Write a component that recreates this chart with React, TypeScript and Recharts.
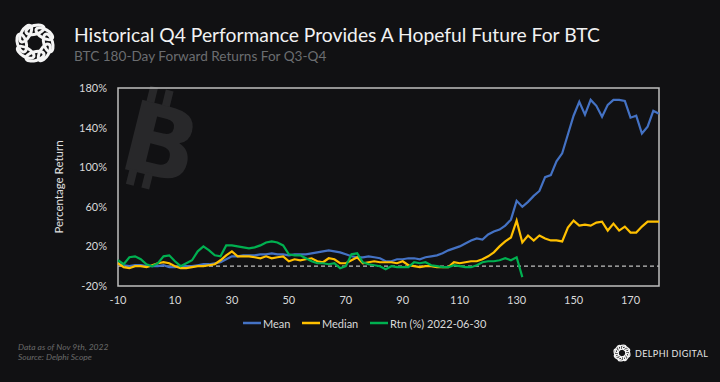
import React from 'react';
import { LineChart, Line, XAxis, YAxis, ReferenceLine, ReferenceArea } from 'recharts';

const days: number[] = [];
for (let d = -10; d <= 180; d += 2) days.push(d);

const meanValues = [
  2, 1, 0, 1, 1, 0, 0, 0, 1, -1,
  -1, 0, 0, 0, 1, 2, 2, 3, 4, 7,
  10, 10, 11, 11, 11, 12, 12, 13, 12, 12,
  11, 12, 12, 12, 13, 14, 15, 16, 15, 14,
  12, 10, 9, 9, 10, 9, 8, 5, 5, 7,
  7, 8, 8, 7, 9, 10, 11, 13, 16, 18,
  20, 23, 26, 28, 27, 32, 35, 37, 41, 47,
  66, 60, 65, 71, 76, 90, 92, 106, 114, 133,
  152, 166, 153, 168, 162, 151, 163, 168, 168, 167,
  150, 152, 134, 141, 157, 154,
];

const medianValues = [
  3, -1, -2, 0, 0, -1, 1, 3, 4, 3,
  0, -2, -2, -1, 0, 0, 1, 2, 6, 11,
  15, 10, 10, 10, 9, 8, 10, 8, 9, 10,
  5, 7, 6, 7, 8, 5, 4, 8, 7, 3,
  3, 6, 9, 3, 4, 5, 4, 4, 4, 3,
  5, 1, 0, -1, 0, 0, -1, -1, -1, 4,
  3, 4, 5, 5, 7, 10, 14, 20, 25, 29,
  46, 24, 31, 26, 31, 28, 26, 26, 25, 39,
  46, 41, 42, 41, 44, 45, 36, 43, 36, 40,
  34, 34, 40, 45, 45, 45,
];

const rtnValues = [
  6, 2, 9, 10, 7, 2, 0, 3, 10, 11,
  5, 0, 3, 6, 15, 20, 16, 11, 10, 21,
  21, 20, 19, 18, 19, 21, 24, 25, 24, 21,
  12, 11, 11, 8, 5, 3, 3, 2, 3, -2,
  0, 12, 13, 4, 2, 1, 0, -3, 0, -1,
  -1, -1, 4, 3, 4, 1, 0, -1, -1, 1,
  0, -1, -1, 1, 4, 5, 5, 6, 8, 6,
  9, -11,
];

const xTicks = [-10, 10, 30, 50, 70, 90, 110, 130, 150, 170];
const yTicks = [-20, 20, 60, 100, 140, 180];

const seriesNames = ['Mean', 'Median', 'Rtn (%) 2022-06-30'];
const seriesColors = ['#4472C4', '#FFC000', '#00B050'];

const data = days.map((day, i) => ({
  day,
  mean: meanValues[i],
  median: medianValues[i],
  rtn: rtnValues[i],
}));

const FONT = 'Lato, "Open Sans", sans-serif';

function KnotLogo({ cx, cy, r, sw }: { cx: number; cy: number; r: number; sw: number }) {
  const loops = [0, 45, 90, 135, 180, 225, 270, 315];
  return (
    <g fill="none" stroke="#f4f4f4" strokeWidth={sw}>
      {loops.map((a) => {
        const rad = (a * Math.PI) / 180;
        const ex = cx + Math.cos(rad) * r * 0.6;
        const ey = cy + Math.sin(rad) * r * 0.6;
        return (
          <ellipse
            key={a}
            cx={ex}
            cy={ey}
            rx={r * 0.42}
            ry={r * 0.2}
            transform={`rotate(${a + 75} ${ex} ${ey})`}
          />
        );
      })}
    </g>
  );
}

export default function App() {
  return (
    <div
      style={{
        position: 'absolute',
        left: 0,
        top: 0,
        width: 720,
        height: 382,
        background: '#111113',
        overflow: 'hidden',
        fontFamily: FONT,
      }}
    >
      <svg width={720} height={382} style={{ position: 'absolute', left: 0, top: 0 }}>
        {/* bitcoin watermark */}
        <g transform="translate(161 142) rotate(14)" fill="#28282a">
          <text x={0} y={35} textAnchor="middle" fontSize={98} fontWeight={900} fontFamily='"DejaVu Sans", sans-serif'>
            B
          </text>
          <rect x={-24} y={-52} width={8} height={16} />
          <rect x={-8} y={-52} width={8} height={16} />
          <rect x={-24} y={33} width={8} height={16} />
          <rect x={-8} y={33} width={8} height={16} />
        </g>

        <KnotLogo cx={35} cy={43} r={22} sw={3} />
        <text x={74} y={42} fontSize={19.3} fill="#f2f2f2" fontFamily={FONT}>
          Historical Q4 Performance Provides A Hopeful Future For BTC
        </text>
        <text x={74} y={61} fontSize={13.6} fill="#6b6d70" fontFamily={FONT}>
          BTC 180-Day Forward Returns For Q3-Q4
        </text>

        <text
          x={58}
          y={187}
          transform="rotate(-90 58 187)"
          textAnchor="middle"
          dominantBaseline="central"
          fontSize={11.5}
          fill="#e0e0e0"
          fontFamily={FONT}
        >
          Percentage Return
        </text>

        {/* legend */}
        {(() => {
          const starts = [243, 302, 370];
          return seriesNames.map((name, i) => (
            <g key={name}>
              <line x1={starts[i]} x2={starts[i] + 18} y1={323} y2={323} stroke={seriesColors[i]} strokeWidth={2.5} />
              <text x={starts[i] + 20} y={323} dominantBaseline="central" fontSize={11} fill="#d9d9d9" fontFamily={FONT}>
                {name}
              </text>
            </g>
          ));
        })()}

        {/* footer */}
        <text x={18} y={350} fontSize={8.5} fontStyle="italic" fill="#6a6a6a" fontFamily={FONT}>
          Data as of Nov 9th, 2022
        </text>
        <text x={18} y={360} fontSize={8.5} fontStyle="italic" fill="#6a6a6a" fontFamily={FONT}>
          Source: Delphi Scope
        </text>
        <KnotLogo cx={622} cy={353} r={9.5} sw={1.3} />
        <text x={635} y={356.5} fontSize={9} fill="#e6e6e6" letterSpacing={1.2} fontFamily={FONT} textLength={74}>
          DELPHI DIGITAL
        </text>
      </svg>

      <div style={{ position: 'absolute', left: 0, top: 0 }}>
        <LineChart
          width={720}
          height={382}
          data={data}
          margin={{ top: 88, right: 61, bottom: 66, left: 58 }}
        >
          <XAxis
            dataKey="day"
            type="number"
            domain={[-10, 180]}
            ticks={xTicks}
            axisLine={false}
            tickLine={false}
            tickSize={0}
            tickMargin={10}
            height={30}
            tick={{ fill: '#d9d9d9', fontSize: 11, fontFamily: FONT }}
            interval={0}
          />
          <YAxis
            type="number"
            domain={[-20, 180]}
            ticks={yTicks}
            axisLine={false}
            tickLine={false}
            tickSize={0}
            tickMargin={11}
            width={60}
            tickFormatter={(v: number) => `${v}%`}
            tick={{ fill: '#d9d9d9', fontSize: 11, fontFamily: FONT }}
            interval={0}
          />
          <ReferenceArea x1={-10} x2={180} y1={-20} y2={180} fill="none" stroke="#bfbfbf" strokeWidth={1.5} />
          <ReferenceLine y={0} stroke="#bfbfbf" strokeDasharray="4 3" strokeWidth={1.2} />
          <Line type="linear" dataKey="mean" stroke={seriesColors[0]} strokeWidth={2.2} dot={false} isAnimationActive={false} />
          <Line type="linear" dataKey="median" stroke={seriesColors[1]} strokeWidth={2.2} dot={false} isAnimationActive={false} />
          <Line type="linear" dataKey="rtn" stroke={seriesColors[2]} strokeWidth={2.2} dot={false} isAnimationActive={false} />
        </LineChart>
      </div>
    </div>
  );
}
